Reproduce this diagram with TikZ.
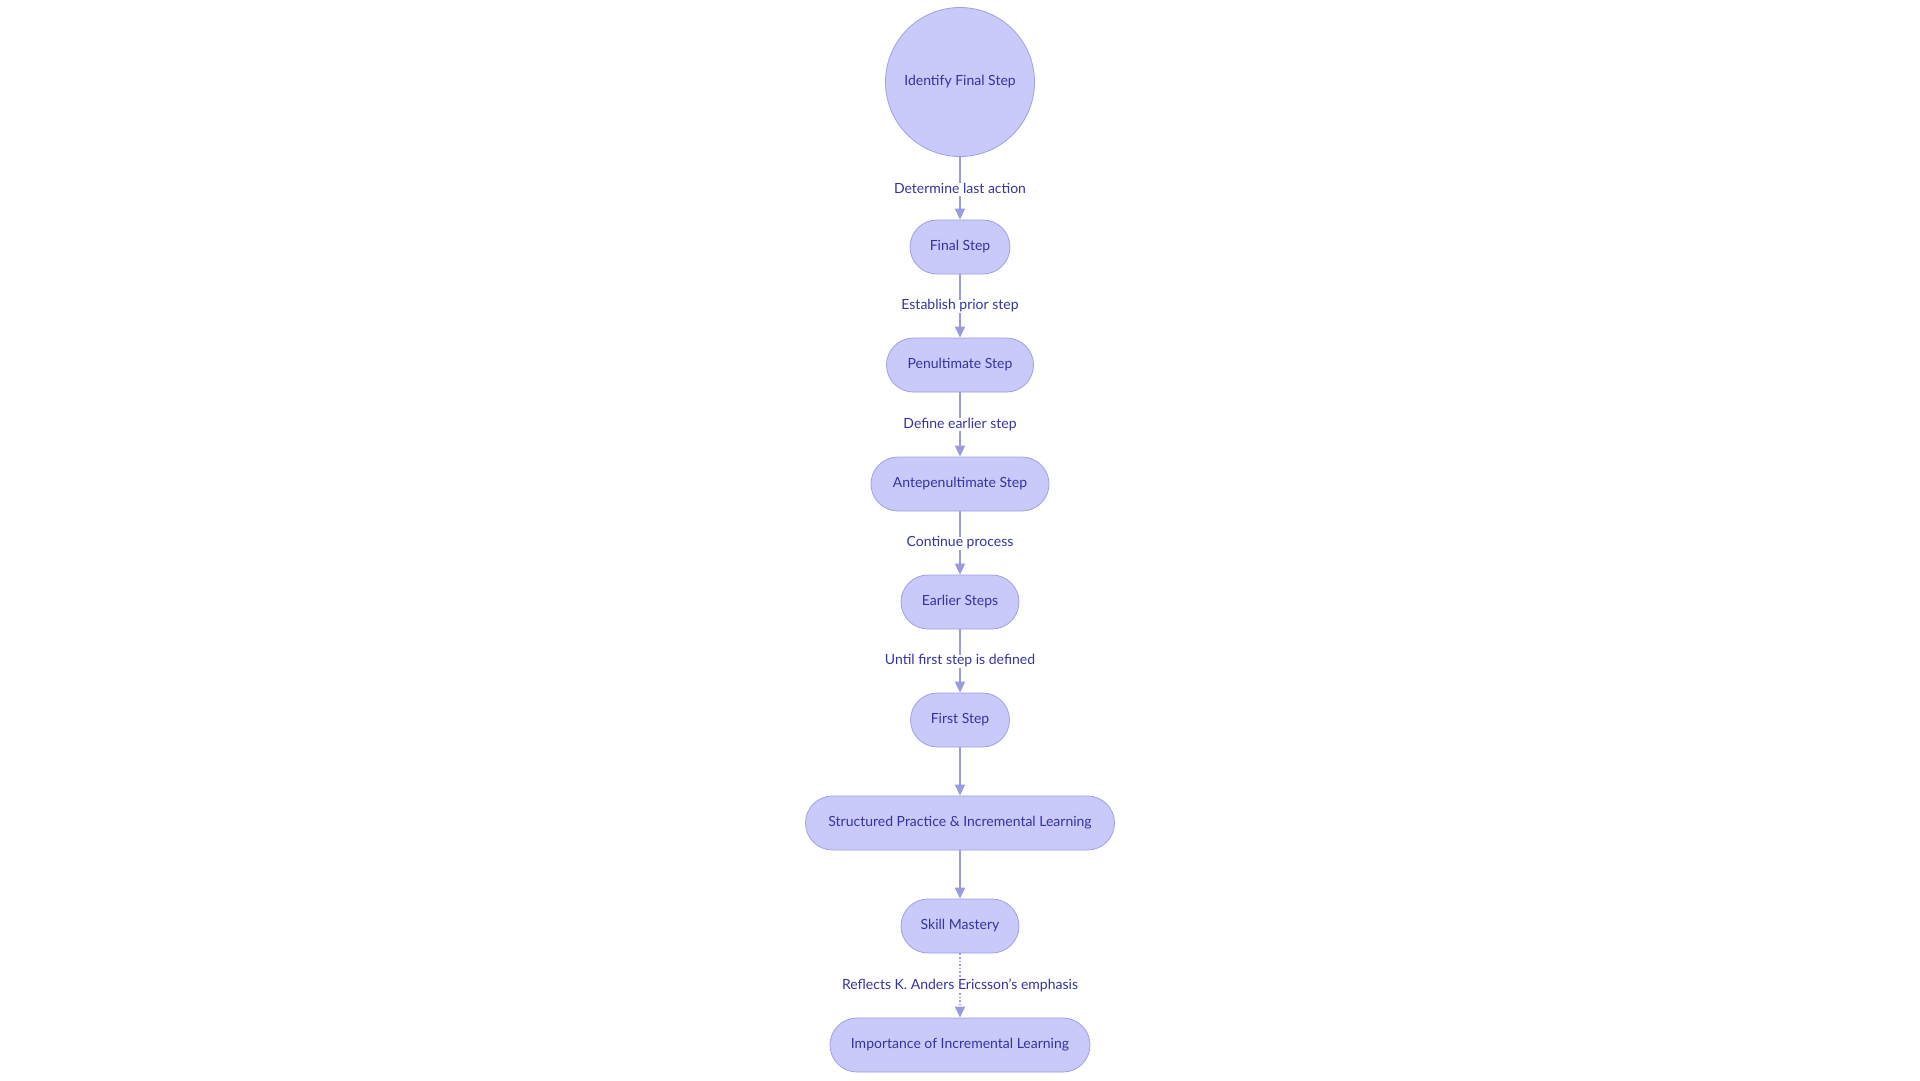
\documentclass[tikz,border=0pt]{standalone}
\usepackage{fontspec}
\setmainfont{Lato}
\usetikzlibrary{arrows.meta}
\definecolor{nfill}{HTML}{C9C9FA}
\definecolor{nstroke}{HTML}{A0A0E6}
\definecolor{ntext}{HTML}{3434A0}
\definecolor{nline}{HTML}{9A9AE0}
\tikzset{
 box/.style={draw=nstroke,fill=nfill,rounded corners=27pt,minimum height=54pt,text=ntext,font=\fontsize{14}{16}\selectfont,line width=0.8pt,inner sep=0pt,text height=8pt,text depth=1pt},
 circ/.style={circle,draw=nstroke,fill=nfill,minimum size=149pt,text=ntext,font=\fontsize{14}{16}\selectfont,line width=0.8pt,text height=8pt,text depth=1pt},
 lab/.style={fill=white,text=ntext,font=\fontsize{14}{16}\selectfont,inner sep=1pt,text height=9pt,text depth=2pt},
 conn/.style={draw=nline,line width=1.6pt,-{Triangle[length=11pt,width=10pt]}}
}
\begin{document}
\begin{tikzpicture}[x=1pt,y=-1pt]
\useasboundingbox[fill=white] (0,0) rectangle (1920,1080);
\node[circ] (a) at (960,82) {Identify Final Step};
\node[box,minimum width=100pt] (b) at (960,247) {Final Step};
\node[box,minimum width=147pt] (c) at (960,365) {Penultimate Step};
\node[box,minimum width=178pt] (d) at (960,484) {Antepenultimate Step};
\node[box,minimum width=118pt] (e) at (960,602) {Earlier Steps};
\node[box,minimum width=99pt] (f) at (960,720) {First Step};
\node[box,minimum width=309pt] (g) at (960,823) {Structured Practice \& Incremental Learning};
\node[box,minimum width=118pt] (h) at (960,926) {Skill Mastery};
\node[box,minimum width=260pt] (i) at (960,1045) {Importance of Incremental Learning};
\draw[conn] (a) -- node[lab,pos=0.52]{Determine last action} (b);
\draw[conn] (b) -- node[lab,pos=0.5]{Establish prior step} (c);
\draw[conn] (c) -- node[lab,pos=0.5]{Define earlier step} (d);
\draw[conn] (d) -- node[lab,pos=0.5]{Continue process} (e);
\draw[conn] (e) -- node[lab,pos=0.5]{Until first step is defined} (f);
\draw[conn] (f) -- (g);
\draw[conn] (g) -- (h);
\draw[conn,dotted] (h) -- node[lab,pos=0.5]{Reflects K. Anders Ericsson's emphasis} (i);
\end{tikzpicture}
\end{document}
